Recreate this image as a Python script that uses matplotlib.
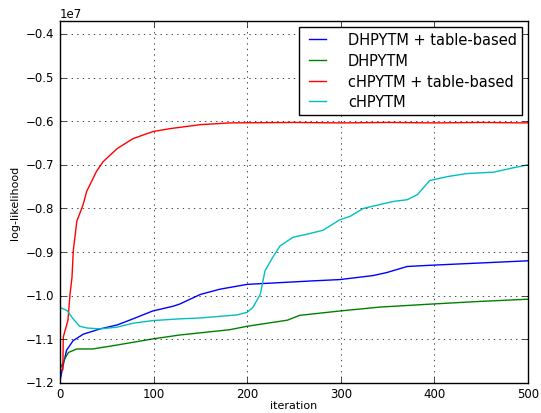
import matplotlib

matplotlib.use("Agg")
import matplotlib.pyplot as plt
import numpy as np

# values (log-likelihood in units of 1e7)
blue_it = [0, 3, 7, 14, 25, 43, 61, 78, 99, 121, 128, 150, 171, 200, 235, 270, 299, 334, 349, 371, 398, 449, 500]
blue_ll = [-1.195, -1.163, -1.125, -1.103, -1.088, -1.076, -1.067, -1.053, -1.035, -1.024, -1.019, -0.997, -0.985,
           -0.974, -0.970, -0.966, -0.963, -0.954, -0.947, -0.933, -0.930, -0.925, -0.920]

green_it = [0, 5, 9, 18, 35, 61, 99, 128, 150, 181, 200, 243, 256, 299, 342, 398, 449, 500]
green_ll = [-1.168, -1.145, -1.130, -1.122, -1.122, -1.113, -1.099, -1.090, -1.085, -1.078, -1.070, -1.056,
            -1.045, -1.035, -1.026, -1.019, -1.013, -1.008]

red_it = [0, 3, 3.5, 8.5, 10.7, 12.8, 14.2, 18, 24.6, 28.5, 39, 46, 61, 78, 99, 118, 150, 182, 250, 300, 350,
          400, 450, 500]
red_ll = [-1.17, -1.17, -1.095, -1.056, -0.997, -0.958, -0.897, -0.829, -0.792, -0.761, -0.715, -0.693, -0.663,
          -0.640, -0.624, -0.617, -0.608, -0.604, -0.603, -0.604, -0.603, -0.604, -0.603, -0.604]

cyan_it = [0, 7.5, 14, 21, 29, 43, 61, 78, 99, 128, 150, 189, 200, 206, 214, 219, 227, 235, 249, 264, 281, 299,
           310, 324, 356, 371, 382, 395, 414, 435, 463, 484, 500]
cyan_ll = [-1.027, -1.034, -1.053, -1.070, -1.074, -1.076, -1.072, -1.063, -1.057, -1.053, -1.051, -1.044,
           -1.038, -1.027, -0.997, -0.943, -0.913, -0.886, -0.866, -0.859, -0.850, -0.826, -0.818, -0.800,
           -0.784, -0.780, -0.768, -0.736, -0.727, -0.720, -0.717, -0.707, -0.700]

series = [
    ("DHPYTM + table-based", blue_it, blue_ll, "b"),
    ("DHPYTM", green_it, green_ll, "g"),
    ("cHPYTM + table-based", red_it, red_ll, "r"),
    ("cHPYTM", cyan_it, cyan_ll, "c"),
]

plt.style.use("classic")
fig = plt.figure(figsize=(5.41, 4.14), dpi=100)
ax = fig.add_axes([60 / 541, 1 - 384 / 414, 468 / 541, 362 / 414])

for label, it, ll, color in series:
    ax.plot(it, np.array(ll) * 1e7, color=color, lw=1.0, label=label)

ax.set_xlim(0, 500)
ax.set_ylim(-1.2e7, -0.3705e7)
ax.set_xticks([0, 100, 200, 300, 400, 500])
ax.set_yticks(np.arange(-1.2e7, -0.35e7, 0.1e7))
ax.tick_params(labelsize=8.5)
ax.tick_params(axis="x", pad=3)
ax.yaxis.get_offset_text().set_fontsize(8.5)
ax.set_xlabel("iteration", fontsize=8, labelpad=0)
ax.set_ylabel("log-likelihood", fontsize=8, labelpad=4)
ax.grid(True)
ax.legend(loc="upper right", fontsize=10.5, handlelength=1.8, handletextpad=1.2,
          borderaxespad=0.4, borderpad=0.35, labelspacing=0.4)

fig.savefig("out.png", dpi=100)
